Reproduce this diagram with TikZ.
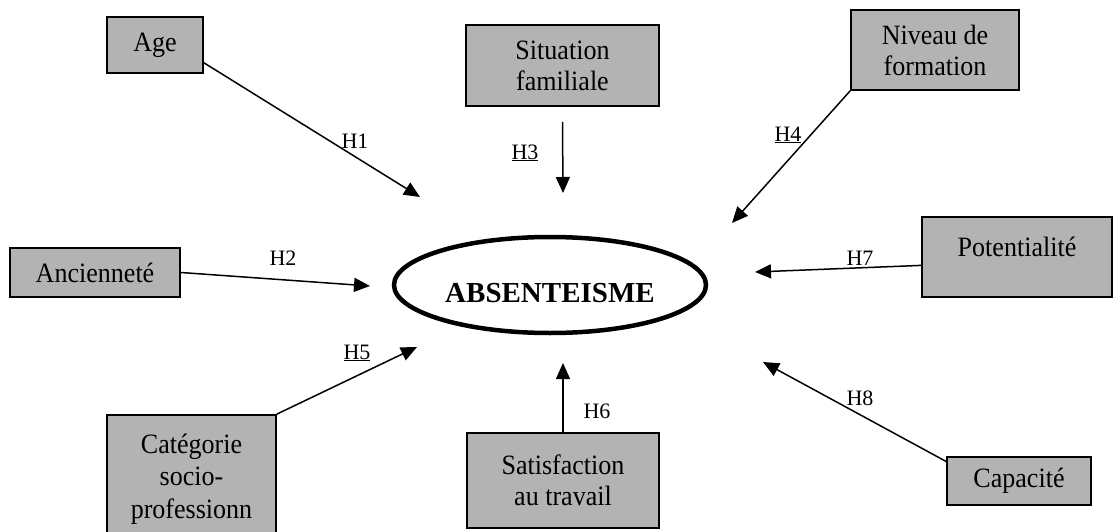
\documentclass[tikz,border=0pt]{standalone}
\usepackage{fontspec}
\setmainfont{Liberation Serif}
\newfontfamily\boxfont{Liberation Serif}[FakeStretch=0.93]
\usetikzlibrary{arrows.meta,shapes.geometric}
\definecolor{boxgray}{RGB}{179,179,179}
\begin{document}
\begin{tikzpicture}[x=1pt,y=-1pt,
  varbox/.style={draw=black, line width=1.8pt, fill=boxgray, align=center, inner sep=0pt,
                 font=\boxfont\fontsize{28}{31}\selectfont},
  link/.style={line width=1.5pt, -{Triangle[length=16pt,width=14pt]}},
  hlab/.style={font=\fontsize{22}{26}\selectfont, anchor=base, inner sep=0pt}]
\useasboundingbox (0,0) rectangle (1113,532);
\clip (0,0) rectangle (1113,532);

% variable boxes
\node[varbox, minimum width=96pt, minimum height=56pt] (age) at (155,45) {Age};
\node[varbox, minimum width=193pt, minimum height=81pt] (sit) at (562.5,65.5) {Situation\\familiale};
\node[varbox, minimum width=168pt, minimum height=80pt] (niv) at (935,50) {Niveau de\\formation};
\node[varbox, minimum width=170pt, minimum height=49pt] (anc) at (95,272.5) {Ancienneté};
\node[varbox, minimum width=190pt, minimum height=80pt, text height=19pt, text depth=21pt] (pot) at (1017,257) {Potentialité};
\node[varbox, minimum width=169pt, minimum height=160pt, font=\boxfont\fontsize{28}{32.5}\selectfont] (cat) at (191.5,495) {Catégorie\\socio-\\professionn\\[5pt]elle};
\node[varbox, minimum width=192pt, minimum height=95pt] (sat) at (563,480.5) {Satisfaction\\au travail};
\node[varbox, minimum width=144pt, minimum height=48pt] (cap) at (1019,481) {Capacité};

% central ellipse
\node[draw=black, ellipse, line width=4.5pt, minimum width=312pt, minimum height=96pt, inner sep=0pt,
      font=\fontsize{29}{34}\selectfont\bfseries, text height=35pt, text depth=0pt] (abs) at (550,285) {ABSENTEISME};

% free arrow ends
\coordinate (t1) at (420,197);
\coordinate (t2) at (370,286);
\coordinate (s3) at ([yshift=-15pt]sit.south);
\coordinate (t3) at (563,193);
\coordinate (t4) at (732,223);
\coordinate (t5) at (417,347);
\coordinate (t6) at (563,363);
\coordinate (t7) at (755,272);
\coordinate (t8) at (763,362);

% connectors
\draw[link] (age.-20.6) -- (t1);
\draw[link] (anc.east) -- (t2);
\draw[link] (s3) -- (t3);
\draw[link] (niv.south west) -- (t4);
\draw[link] (cat.north east) -- (t5);
\draw[link] (sat.north) -- (t6);
\draw[link] (pot.185.4) -- (t7);
\draw[link] (cap.165.6) -- (t8);

% hypothesis labels
\node[hlab] (h1) at (355,148) {H1};
\node[hlab] (h2) at (283,265) {H2};
\node[hlab] (h3) at (525,159) {\underline{H3}};
\node[hlab] (h4) at (788,141) {\underline{H4}};
\node[hlab] (h5) at (357,359) {\underline{H5}};
\node[hlab] (h6) at (597,418) {H6};
\node[hlab] (h7) at (860,265) {H7};
\node[hlab] (h8) at (860,405) {H8};
\end{tikzpicture}
\end{document}
